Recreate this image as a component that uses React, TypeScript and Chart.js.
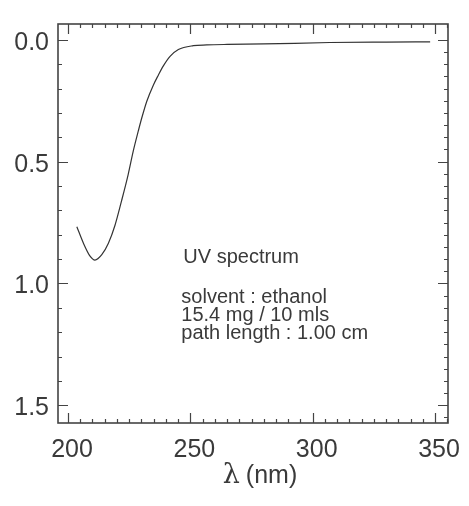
import React, { useEffect, useRef } from 'react';
import { Chart, registerables } from 'chart.js';

Chart.register(...registerables);

// ---- data ----
const wavelengths = [203.6, 206.3, 209.0, 211.0, 213.8, 216.5, 219.2, 221.9, 224.6, 226.7, 228.7, 230.1, 232.2, 234.9, 236.9, 238.9, 241.7, 245.1, 251.2, 256.7, 265, 280, 307, 330, 348];
const absorbance = [0.767, 0.835, 0.888, 0.904, 0.882, 0.835, 0.761, 0.660, 0.552, 0.455, 0.375, 0.322, 0.252, 0.185, 0.145, 0.108, 0.068, 0.040, 0.024, 0.021, 0.019, 0.017, 0.011, 0.009, 0.008];

const xTickValues = [200, 250, 300, 350];
const yTickValues = [0, 0.5, 1.0, 1.5];
const xMinorStep = 5;
const yMinorStepLeft = 0.1;
const yMinorStepRight = 0.05;
const xRange = [195.9, 355.3];
const yRange = [-0.065, 1.573];

const noteTitle = 'UV spectrum';
const noteLines = ['solvent : ethanol', '15.4 mg / 10 mls', 'path length : 1.00 cm'];
const axisSymbol = 'λ';
const axisUnit = '(nm)';

const INK = '#3a3a3a';
const SANS = '"Liberation Sans", Arial, sans-serif';

const framePlugin = {
  id: 'frameTicks',
  afterDatasetsDraw(chart: any) {
    const { ctx, chartArea, scales } = chart;
    const { left, right, top, bottom } = chartArea;
    const xs = scales.x;
    const ys = scales.y;
    ctx.save();
    ctx.strokeStyle = '#444';
    ctx.lineWidth = 1.6;
    ctx.strokeRect(left, top, right - left, bottom - top);

    ctx.lineWidth = 1.2;
    ctx.beginPath();
    // x ticks (bottom & top)
    const x0 = Math.ceil(xRange[0] / xMinorStep) * xMinorStep;
    for (let v = x0; v <= xRange[1]; v += xMinorStep) {
      const px = Math.round(xs.getPixelForValue(v)) + 0.5;
      const major = xTickValues.includes(v);
      const len = major ? 10 : 4;
      ctx.moveTo(px, bottom);
      ctx.lineTo(px, bottom - len);
      ctx.moveTo(px, top);
      ctx.lineTo(px, top + len);
    }
    // y ticks left
    for (let i = 0; i * yMinorStepLeft <= yRange[1]; i++) {
      const v = +(i * yMinorStepLeft).toFixed(3);
      const py = Math.round(ys.getPixelForValue(v)) + 0.5;
      const major = yTickValues.some((t) => Math.abs(t - v) < 1e-6);
      const len = major ? 10 : 4;
      ctx.moveTo(left, py);
      ctx.lineTo(left + len, py);
    }
    // y ticks right
    for (let i = 0; i * yMinorStepRight <= yRange[1]; i++) {
      const v = +(i * yMinorStepRight).toFixed(3);
      const py = Math.round(ys.getPixelForValue(v)) + 0.5;
      const major = yTickValues.some((t) => Math.abs(t - v) < 1e-6);
      const len = major ? 10 : 4;
      ctx.moveTo(right, py);
      ctx.lineTo(right - len, py);
    }
    ctx.stroke();

    // annotation text
    ctx.fillStyle = INK;
    ctx.textBaseline = 'alphabetic';
    ctx.textAlign = 'left';
    ctx.font = `20px ${SANS}`;
    const tx = xs.getPixelForValue(246.3);
    ctx.fillText(noteTitle, tx + 2, ys.getPixelForValue(0.915));
    noteLines.forEach((line, i) => {
      ctx.fillText(line, tx, ys.getPixelForValue(1.08) + i * 18);
    });

    // axis title
    const baseY = bottom + 60;
    ctx.font = `27px "DejaVu Serif", serif`;
    const wl = ctx.measureText(axisSymbol).width;
    ctx.font = `25px ${SANS}`;
    const wu = ctx.measureText(axisUnit).width;
    const gap = 6;
    const cx = (left + right) / 2 + 7;
    const sx = cx - (wl + gap + wu) / 2;
    ctx.font = `27px "DejaVu Serif", serif`;
    ctx.fillText(axisSymbol, sx, baseY);
    ctx.font = `25px ${SANS}`;
    ctx.fillText(axisUnit, sx + wl + gap, baseY);
    ctx.restore();
  },
};

export default function App() {
  const ref = useRef<HTMLCanvasElement | null>(null);
  useEffect(() => {
    if (!ref.current) return;
    const chart = new Chart(ref.current, {
      type: 'line',
      data: {
        datasets: [
          {
            data: wavelengths.map((w, i) => ({ x: w, y: absorbance[i] })),
            borderColor: '#333',
            borderWidth: 1.2,
            pointRadius: 0,
            fill: false,
            cubicInterpolationMode: 'monotone',
          },
        ],
      },
      options: {
        animation: false,
        responsive: false,
        maintainAspectRatio: false,
        layout: { padding: { top: 17, right: 21, left: 0, bottom: 0 } },
        plugins: { legend: { display: false }, tooltip: { enabled: false } },
        scales: {
          x: {
            type: 'linear',
            position: 'bottom',
            min: xRange[0],
            max: xRange[1],
            grid: { display: false, drawTicks: false },
            border: { display: false },
            afterBuildTicks: (s: any) => {
              s.ticks = xTickValues.map((v) => ({ value: v }));
            },
            afterFit: (s: any) => {
              s.height = 83;
            },
            ticks: {
              padding: 12,
              labelOffset: 4,
              maxRotation: 0,
              color: INK,
              font: { size: 25, family: SANS },
              callback: (v: any) => String(v),
            },
          },
          y: {
            type: 'linear',
            position: 'left',
            reverse: true,
            min: yRange[0],
            max: yRange[1],
            grid: { display: false, drawTicks: false },
            border: { display: false },
            afterBuildTicks: (s: any) => {
              s.ticks = yTickValues.map((v) => ({ value: v }));
            },
            afterFit: (s: any) => {
              s.width = 58;
            },
            ticks: {
              padding: 9,
              labelOffset: 3,
              color: INK,
              font: { size: 25, family: SANS },
              callback: (v: any) => Number(v).toFixed(1),
            },
          },
        },
      },
      plugins: [framePlugin],
    } as any);
    return () => chart.destroy();
  }, []);
  return (
    <div style={{ position: 'absolute', left: 0, top: 0, width: 469, height: 506, background: '#fff' }}>
      <canvas ref={ref} width={469} height={506} style={{ width: 469, height: 506 }} />
    </div>
  );
}
